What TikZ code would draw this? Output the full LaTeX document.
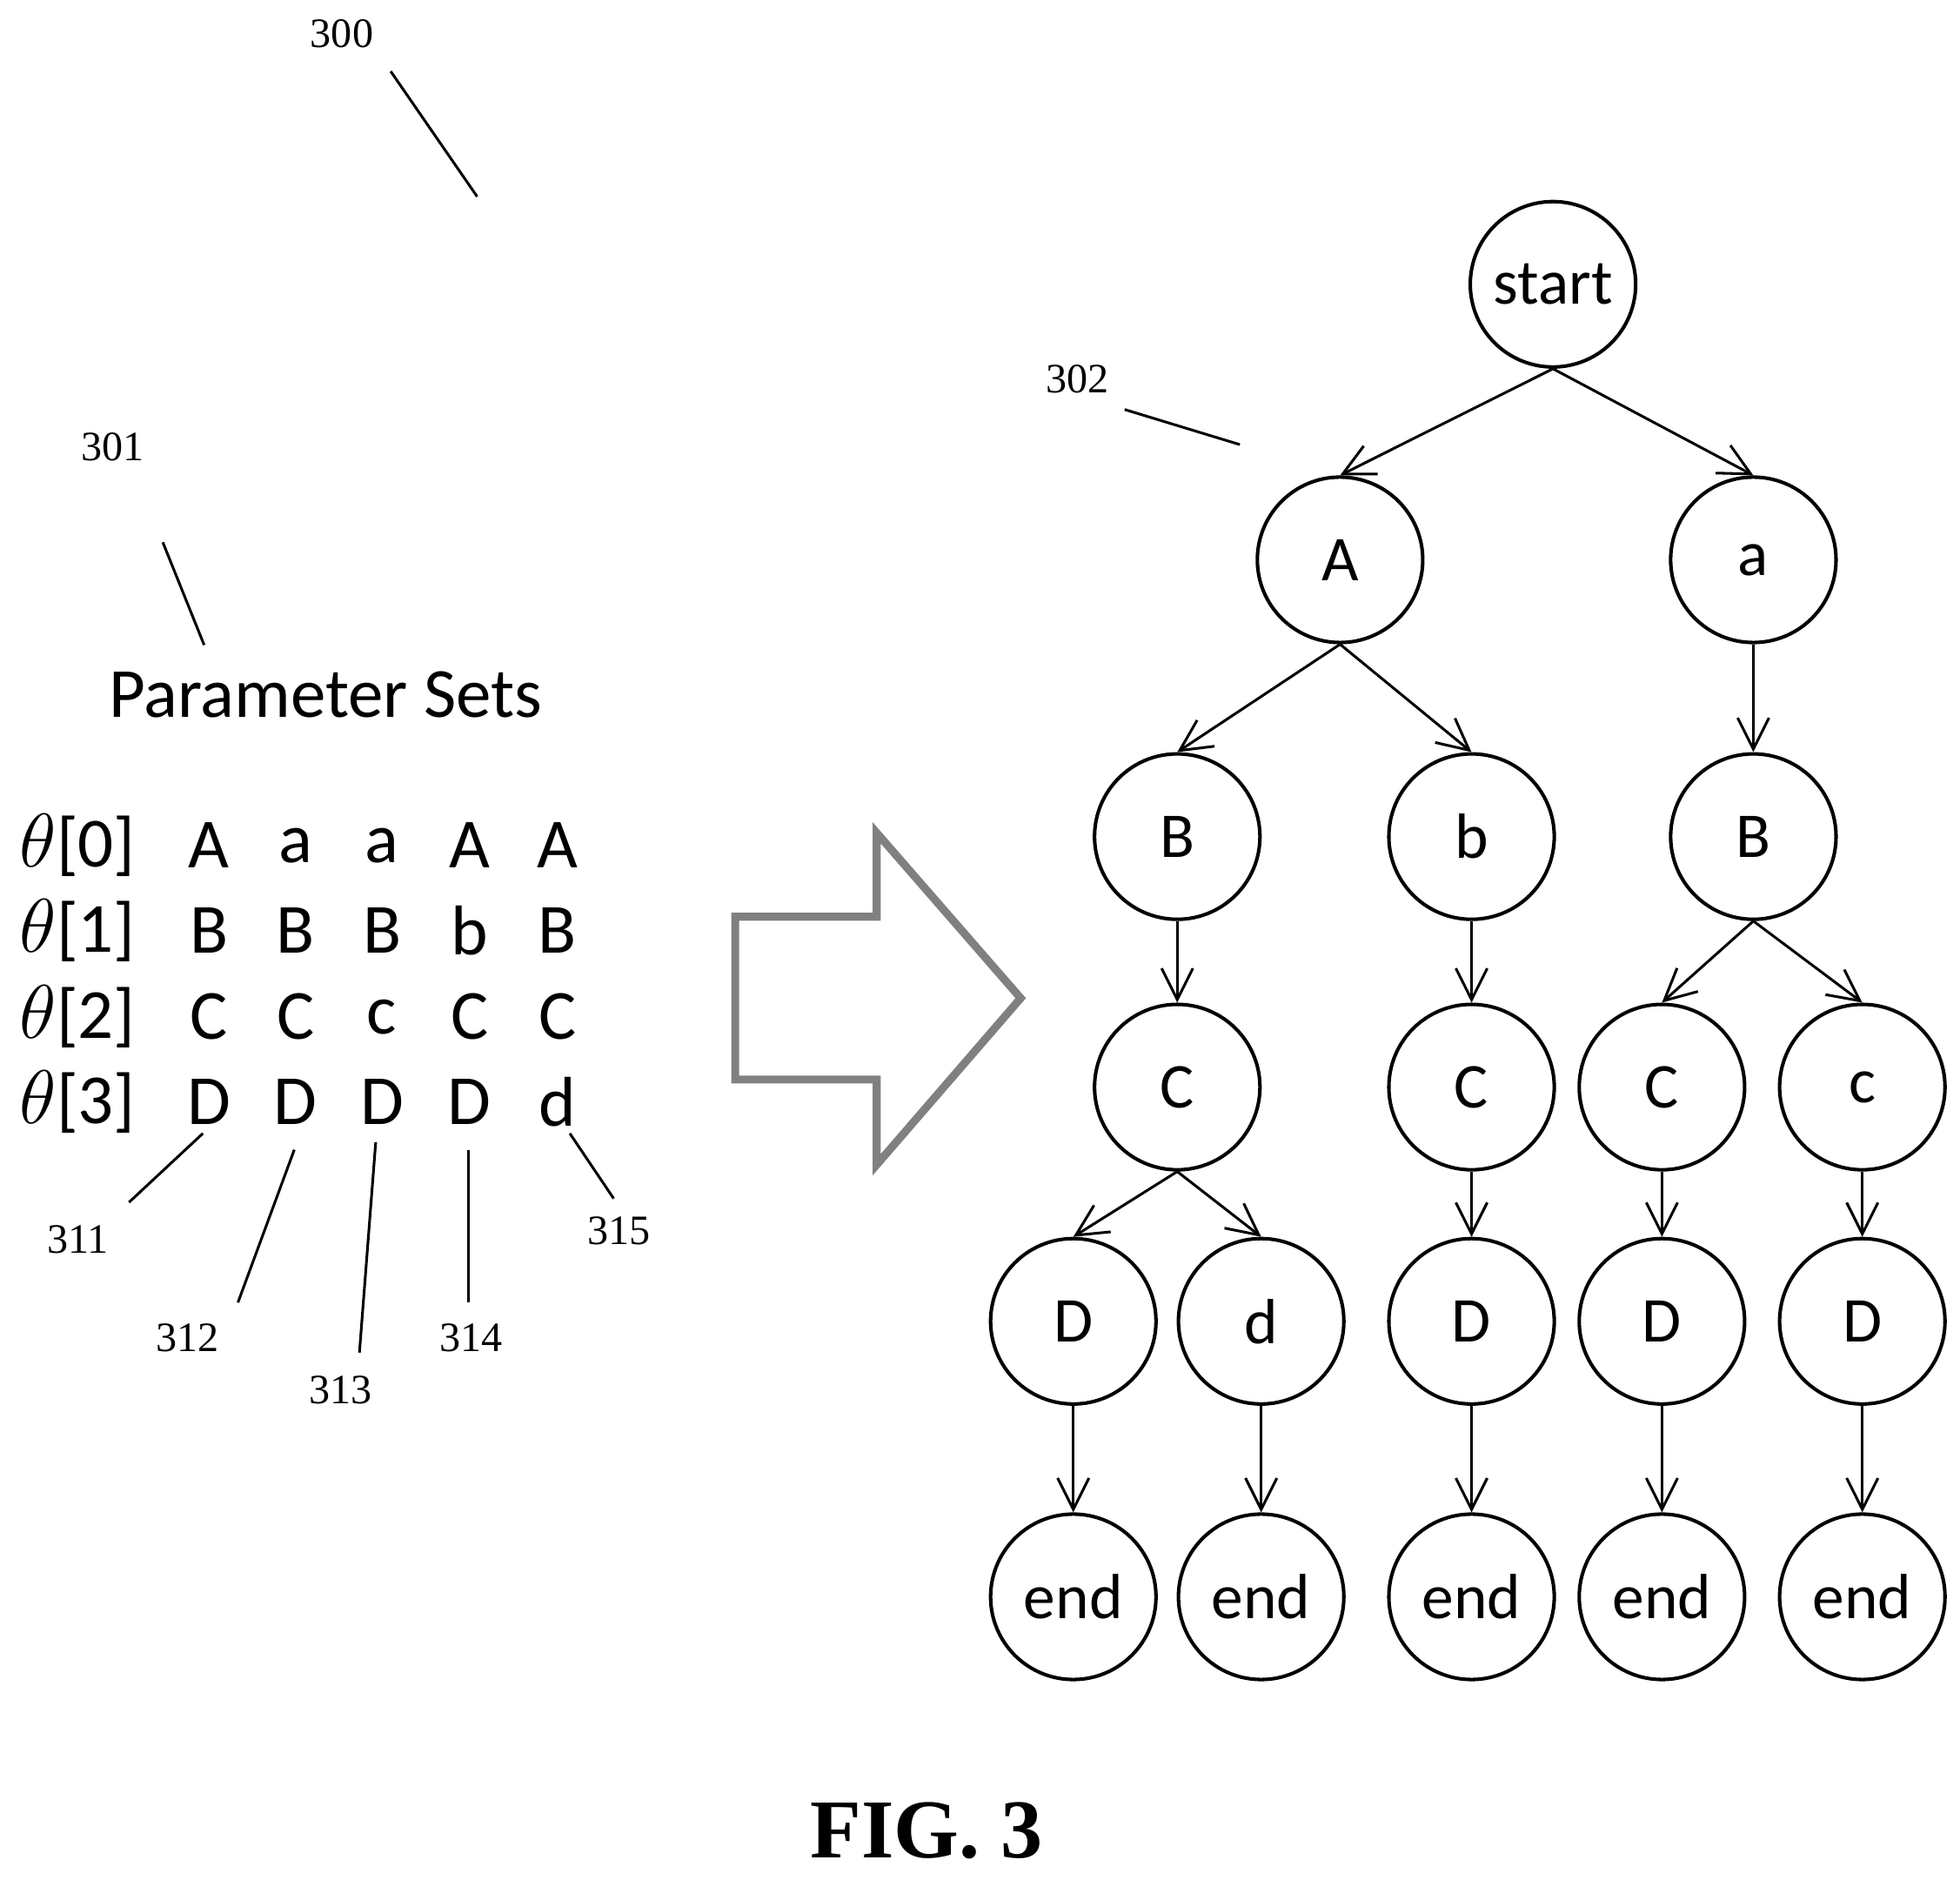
\documentclass[tikz,border=0pt]{standalone}
\usepackage{fontspec}
\setmainfont{Carlito}
\newfontfamily\numfont{Liberation Serif}
\usetikzlibrary{arrows.meta,positioning}
\tikzset{
	tnode/.style={circle, draw, thick, minimum size=1.32cm, inner sep=0pt, font=\fontsize{14.5}{17}\selectfont},
	tedge/.style={-{Straight Barb[length=2.5mm,width=2.5mm]}, semithick},
	refnum/.style={font=\numfont\fontsize{9.5}{11}\selectfont},
	lead/.style={semithick},
	ptext/.style={font=\fontsize{16}{19}\selectfont}
}
\begin{document}
\begin{tikzpicture}[x=0.01cm,y=-0.01cm]
		\useasboundingbox (0,0) rectangle (1565,1501);
		% tree
		\draw (1240,227) node [tnode] (start) {start};
		\draw (1070,447) node [tnode] (A) {A};
		\draw (1400,447) node [tnode] (a) {a};
		\draw (940,668) node [tnode] (B1) {B};
		\draw (1175,668) node [tnode] (b) {b};
		\draw (1400,668) node [tnode] (B2) {B};
		\draw (940,868) node [tnode] (C1) {C};
		\draw (1175,868) node [tnode] (C2) {C};
		\draw (1327,868) node [tnode] (C3) {C};
		\draw (1487,868) node [tnode] (c) {c};
		\draw (857,1055) node [tnode] (D1) {D};
		\draw (1007,1055) node [tnode] (d) {d};
		\draw (1175,1055) node [tnode] (D2) {D};
		\draw (1327,1055) node [tnode] (D3) {D};
		\draw (1487,1055) node [tnode] (D4) {D};
		\draw (857,1275) node [tnode] (E1) {end};
		\draw (1007,1275) node [tnode] (E2) {end};
		\draw (1175,1275) node [tnode] (E3) {end};
		\draw (1327,1275) node [tnode] (E4) {end};
		\draw (1487,1275) node [tnode] (E5) {end};

		\draw [tedge] (start.south) -- (A.north);
		\draw [tedge] (start.south) -- (a.north);
		\draw [tedge] (A.south) -- (B1.north);
		\draw [tedge] (A.south) -- (b.north);
		\draw [tedge] (a.south) -- (B2.north);
		\draw [tedge] (B1.south) -- (C1.north);
		\draw [tedge] (b.south) -- (C2.north);
		\draw [tedge] (B2.south) -- (C3.north);
		\draw [tedge] (B2.south) -- (c.north);
		\draw [tedge] (C1.south) -- (D1.north);
		\draw [tedge] (C1.south) -- (d.north);
		\draw [tedge] (C2.south) -- (D2.north);
		\draw [tedge] (C3.south) -- (D3.north);
		\draw [tedge] (c.south) -- (D4.north);
		\draw [tedge] (D1.south) -- (E1.north);
		\draw [tedge] (d.south) -- (E2.north);
		\draw [tedge] (D2.south) -- (E3.north);
		\draw [tedge] (D3.south) -- (E4.north);
		\draw [tedge] (D4.south) -- (E5.north);

		% parameter sets
		\draw (260,555) node [ptext] (title) {Parameter Sets};
		\draw (62,675) node [ptext] (t0) {$\theta$[0]};
		\draw (62,743) node [ptext] (t1) {$\theta$[1]};
		\draw (62,812) node [ptext] (t2) {$\theta$[2]};
		\draw (62,880) node [ptext] (t3) {$\theta$[3]};
		\foreach \x/\p/\q/\r/\s [count=\i] in {167/A/B/C/D, 236/a/B/C/D, 305/a/B/c/D, 375/A/b/C/D, 445/A/B/C/d} {
			\draw (\x,675) node [ptext] (s\i a) {\p};
			\draw (\x,743) node [ptext] (s\i b) {\q};
			\draw (\x,812) node [ptext] (s\i c) {\r};
			\draw (\x,880) node [ptext] (s\i d) {\s};
		}

		% reference numerals
		\draw (273,27) node [refnum] (n300) {300};
		\draw (90,357) node [refnum] (n301) {301};
		\draw (860,303) node [refnum] (n302) {302};
		\draw (62,990) node [refnum] (n311) {311};
		\draw (150,1068) node [refnum] (n312) {312};
		\draw (272,1110) node [refnum] (n313) {313};
		\draw (376,1068) node [refnum] (n314) {314};
		\draw (494,983) node [refnum] (n315) {315};
		\coordinate (p300) at (381,157);
		\coordinate (p301) at (163,515);
		\coordinate (p302) at (990,355);
		\draw [lead] (312,57) -- (p300);
		\draw [lead] (130,433) -- (p301);
		\draw [lead] (898,327) -- (p302);
		\draw [lead] (103,960) -- (162,905);
		\draw [lead] (190,1040) -- (235,918);
		\draw [lead] (287,1080) -- (300,912);
		\draw [lead] (374,1040) -- (374,918);
		\draw [lead] (490,957) -- (455,905);

		% big arrow
		\draw [gray, line width=1.8pt] (587,732) -- (700,732) -- (700,665) -- (815,797)
			-- (700,930) -- (700,862) -- (587,862) -- cycle;

		\draw (740,1462) node [font=\numfont\bfseries\fontsize{19}{22}\selectfont] (fig) {FIG. 3};
	\end{tikzpicture}
\end{document}
